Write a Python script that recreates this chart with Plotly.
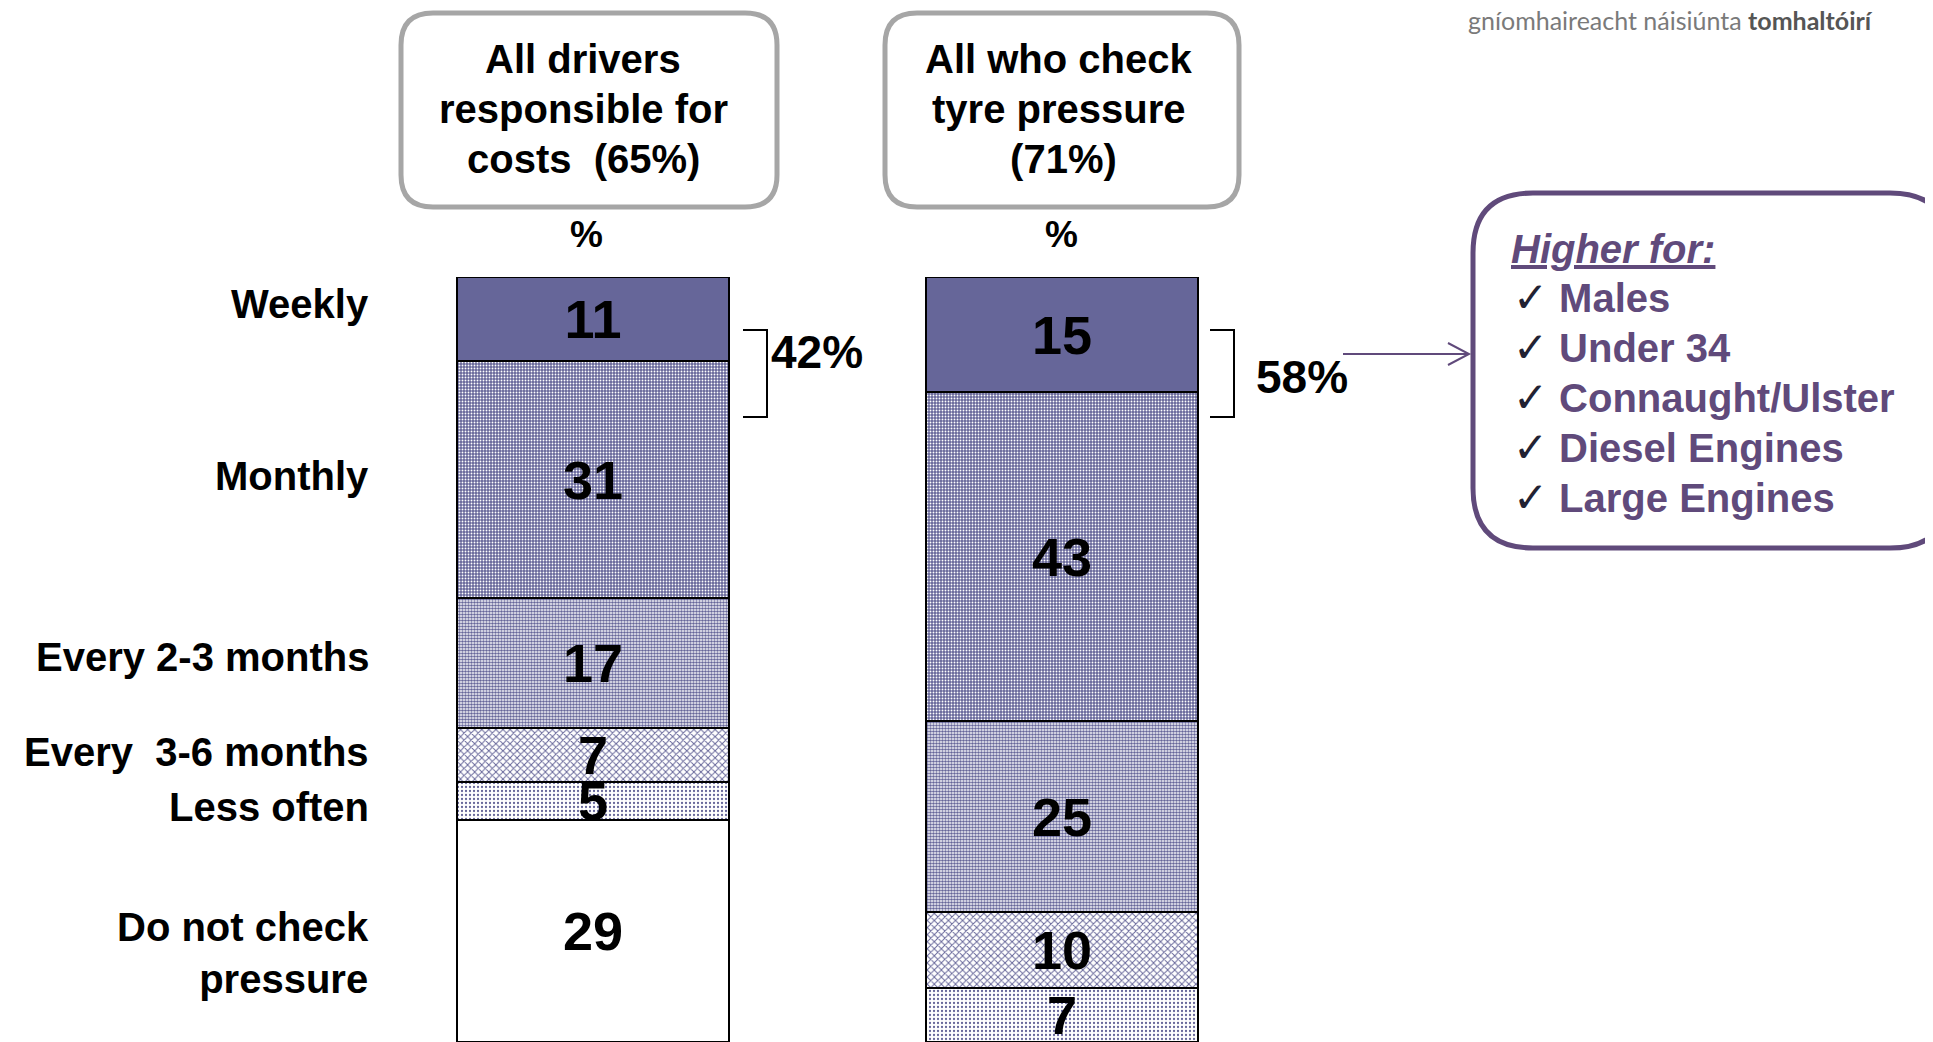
import plotly.graph_objects as go

W, H = 1933, 1042
OFF = 8  # page body margin; all layout positions below are page pixels

# data
groups = ["All drivers responsible for costs", "All who check tyre pressure"]
categories = ["Weekly", "Monthly", "Every 2-3 months", "Every  3-6 months", "Less often", "Do not check pressure"]
all_drivers = [11, 31, 17, 7, 5, 29]
checkers = [15, 43, 25, 10, 7, None]
group_titles = [["All drivers", "responsible for", "costs  (65%)"], ["All who check", "tyre pressure", " (71%)"]]
bracket_labels = ["42%", "58%"]
higher_for = ["Males", "Under 34", "Connaught/Ulster", "Diesel Engines", "Large Engines"]
row_labels = ["Weekly", "Monthly", "Every 2-3 months", "Every  3-6 months", "Less often", "Do not check<br>pressure"]

PURPLE = "#666699"
BOX = "#604a7b"
FONT = "Liberation Sans, Arial, sans-serif"

patterns = [
    None,
    dict(shape=".", bgcolor=PURPLE, fgcolor="white", size=3, solidity=0.3, fillmode="replace"),
    dict(shape=".", bgcolor="white", fgcolor=PURPLE, size=3, solidity=0.6, fillmode="replace"),
    dict(shape="x", bgcolor="white", fgcolor=PURPLE, size=5, solidity=0.35, fillmode="replace"),
    dict(shape=".", bgcolor="white", fgcolor=PURPLE, size=4, solidity=0.25, fillmode="replace"),
    None,
]
solid = [PURPLE, "white", "white", "white", "white", "white"]


def px(x):
    return (x - OFF) / W


def py(y):
    return 1 - (y - OFF) / H


def rounded_rect(x0, y0, x1, y1, r):
    return ("M {xa},{ya} L {xb},{ya} Q {X1},{ya} {X1},{yc} L {X1},{yd} Q {X1},{yb} {xb},{yb} "
            "L {xa},{yb} Q {X0},{yb} {X0},{yd} L {X0},{yc} Q {X0},{ya} {xa},{ya} Z").format(
        xa=px(x0 + r), xb=px(x1 - r), X0=px(x0), X1=px(x1),
        ya=py(y0), yb=py(y1), yc=py(y0 + r), yd=py(y1 - r))


fig = go.Figure()
for i, cat in enumerate(categories):
    vals = [all_drivers[i], checkers[i]]
    marker = dict(color=solid[i], line=dict(color="black", width=2))
    if patterns[i]:
        marker["pattern"] = patterns[i]
    fig.add_trace(go.Bar(
        x=[0, 1], y=vals, name=cat, width=0.58,
        marker=marker,
        text=[v if v is not None else "" for v in vals],
        textposition="inside", insidetextanchor="middle",
        constraintext="none", textangle=0, cliponaxis=False,
        textfont=dict(family=FONT, size=54, color="black", weight="bold"),
        hoverinfo="skip", showlegend=False,
    ))

annotations = []
shapes = []

# row labels on the left
label_y = [3.5, 26, 49.7, 62.1, 69.3, 88.3]
for lab, yv in zip(row_labels, label_y):
    annotations.append(dict(x=px(371), xref="paper", y=yv, yref="y", text=lab,
                            xanchor="right", yanchor="middle", align="right", showarrow=False,
                            font=dict(family=FONT, size=40, color="black", weight="bold")))

# group title boxes and % headers
box_x = [(401, 777), (885, 1239)]
title_cx = [583, 1058]
for (x0, x1), cx, title in zip(box_x, title_cx, group_titles):
    shapes.append(dict(type="path", xref="paper", yref="paper",
                       path=rounded_rect(x0, 13, x1, 207, 32),
                       line=dict(color="#a6a6a6", width=5), fillcolor="white", layer="below"))
    for line, ly in zip(title, [59, 109, 159]):
        annotations.append(dict(x=px(cx), xref="paper", y=py(ly), yref="paper", text=line,
                                xanchor="center", yanchor="middle", showarrow=False,
                                font=dict(family=FONT, size=40, color="black", weight="bold")))
    annotations.append(dict(x=px(cx + 3), xref="paper", y=py(234), yref="paper", text="%",
                            xanchor="center", yanchor="middle", showarrow=False,
                            font=dict(family=FONT, size=37, color="black", weight="bold")))

# brackets
for bx, lab, lx, ly in zip([743, 1210], bracket_labels, [769, 1254], [352, 377]):
    path = "M {a},{t} L {b},{t} L {b},{bt} L {a},{bt}".format(
        a=px(bx), b=px(bx + 24), t=py(330), bt=py(417))
    shapes.append(dict(type="path", xref="paper", yref="paper", path=path,
                       line=dict(color="black", width=2)))
    annotations.append(dict(x=px(lx), xref="paper", y=py(ly), yref="paper", text=lab,
                            xanchor="left", yanchor="middle", showarrow=False,
                            font=dict(family=FONT, size=46, color="black", weight="bold")))

# arrow to the "higher for" box
shapes.append(dict(type="line", xref="paper", yref="paper",
                   x0=px(1343), x1=px(1468), y0=py(354), y1=py(354),
                   line=dict(color=BOX, width=2)))
shapes.append(dict(type="path", xref="paper", yref="paper",
                   path="M {a},{t} L {b},{m} L {a},{bt}".format(a=px(1448), b=px(1469), t=py(343), m=py(354), bt=py(365)),
                   line=dict(color=BOX, width=2)))

# higher for box
shapes.append(dict(type="path", xref="paper", yref="paper", path=rounded_rect(1473, 193, 1950, 548, 60),
                   line=dict(color=BOX, width=5), fillcolor="white", layer="below"))
annotations.append(dict(x=px(1509), xref="paper", y=py(249), yref="paper", text="<u>Higher for:</u>",
                        xanchor="left", yanchor="middle", showarrow=False,
                        font=dict(family=FONT, size=40, color=BOX, weight="bold", style="italic")))
for k, item in enumerate(higher_for):
    annotations.append(dict(x=px(1511), xref="paper", y=py(297 + 50 * k), yref="paper",
                            text="<span style='font-weight:normal;color:#222233;font-size:42px'>✓</span> " + item,
                            xanchor="left", yanchor="middle", showarrow=False,
                            font=dict(family=FONT, size=40, color=BOX, weight="bold")))

# agency name top right
annotations.append(dict(x=px(1466), xref="paper", y=py(20), yref="paper",
                        text="gníomhaireacht náisiúnta <span style='font-weight:bold;color:#555555'>tomhaltóirí</span>",
                        xanchor="left", yanchor="middle", showarrow=False,
                        font=dict(family="Lato, Open Sans, sans-serif", size=25, color="#7a7a7a")))

fig.update_layout(
    width=W, height=H,
    barmode="stack", bargap=0,
    margin=dict(l=0, r=0, t=0, b=0),
    paper_bgcolor="white", plot_bgcolor="white",
    xaxis=dict(range=[(OFF - 593) / 468.7, 1 + (W + OFF - 1061.7) / 468.7], visible=False, fixedrange=True),
    yaxis=dict(range=[100, 0], domain=[py(1042), py(277)], visible=False, fixedrange=True),
    annotations=annotations, shapes=shapes,
)

fig.write_html("out.html")
